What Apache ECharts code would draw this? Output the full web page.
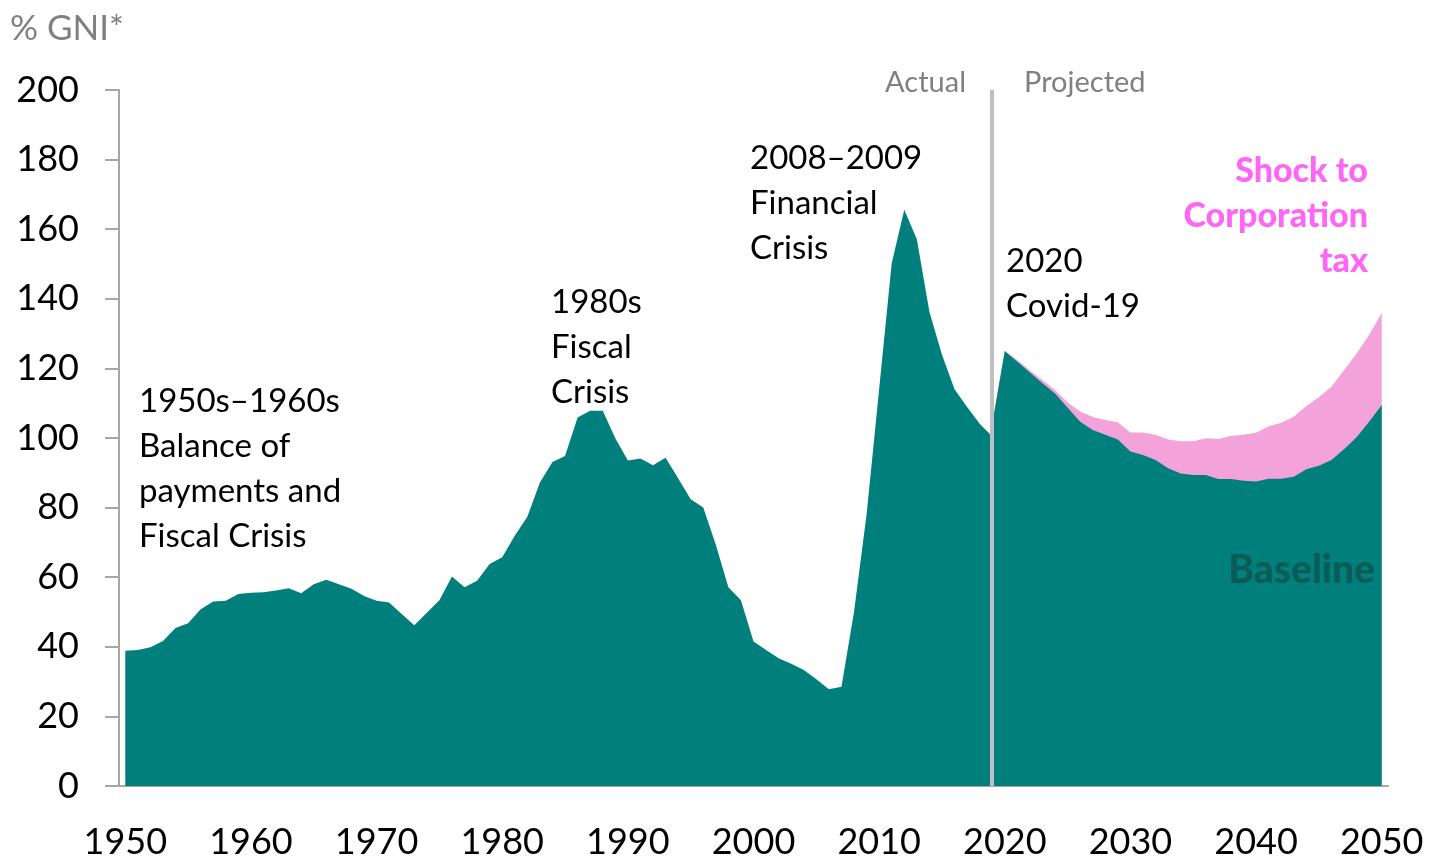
<!DOCTYPE html>
<html>
<head>
<meta charset="utf-8">
<script src="https://cdn.jsdelivr.net/npm/echarts@6/dist/echarts.min.js"></script>
<style>
  html, body { margin: 0; padding: 0; background: #fff; }
  #chart { width: 1429px; height: 860px; }
</style>
</head>
<body>
<div id="chart"></div>
<script>
// years 1950..2050
const years = []
for (let y = 1950; y <= 2050; y++) years.push(String(y))

// actual debt, % GNI*, 1950..2019
const actual = [
  38.9, 39.1, 39.9, 41.7, 45.4, 46.8, 50.8, 53.0, 53.2, 55.2,
  55.5, 55.7, 56.2, 56.8, 55.4, 58.0, 59.3, 58.0, 56.7, 54.6,
  53.2, 52.7, 49.4, 46.2, 49.8, 53.4, 60.2, 57.1, 59.0, 63.8,
  65.7, 71.9, 77.4, 87.2, 93.1, 94.8, 105.9, 107.8, 107.8, 99.9,
  93.5, 94.1, 92.2, 94.3, 88.4, 82.4, 80.0, 69.3, 57.1, 53.4,
  41.5, 39.1, 36.7, 35.1, 33.3, 30.7, 27.8, 28.5, 50.0, 78.0,
  114.0, 150.2, 165.6, 157.1, 136.3, 123.9, 114.0, 108.9, 104.1, 100.4
]

// projected baseline, 2019..2050
const baseline = [
  104.0, 125.0, 121.9, 118.8, 115.7, 112.8, 108.7, 104.7, 102.3, 100.9,
  99.6, 96.1, 95.1, 93.7, 91.3, 89.8, 89.4, 89.4, 88.2, 88.2,
  87.7, 87.5, 88.3, 88.3, 88.9, 91.0, 92.0, 93.7, 96.8, 100.2,
  104.7, 109.5
]

// projected with corporation tax shock, 2019..2050
const shock = [
  104.0, 125.0, 122.4, 119.5, 116.7, 113.8, 110.2, 107.6, 106.0, 105.2,
  104.5, 101.6, 101.6, 100.9, 99.6, 99.1, 99.1, 99.9, 99.7, 100.6,
  100.9, 101.5, 103.4, 104.4, 106.1, 109.2, 111.7, 114.7, 119.5, 124.3,
  129.6, 135.9
]

const yTicks = [0, 20, 40, 60, 80, 100, 120, 140, 160, 180, 200]

const projStart = years.indexOf('2019')
const pad = (arr, start) => years.map((_, i) => (i >= start && i - start < arr.length) ? arr[i - start] : null)

const teal = '#007f7c'
const pink = '#f3a2da'
const font = 'Lato'

// annotation helper
const note = (text, pos, style) => Object.assign({ type: 'text', z: 100, style: Object.assign({ text: text }, style) }, pos)
const blackNote = { fill: '#000', font: '33px ' + font, lineHeight: 45 }
const pinkNote = { fill: '#ff66f5', font: '900 34px ' + font }

const chart = echarts.init(document.getElementById('chart'))
const option = {
  animation: false,
  textStyle: { fontFamily: font },
  grid: { left: 119, right: 41, top: 90, bottom: 74 },
  xAxis: {
    type: 'category',
    data: years,
    boundaryGap: true,
    axisLine: { lineStyle: { color: '#a6a6a6', width: 2 } },
    axisTick: { interval: 9, length: 14, lineStyle: { color: '#a6a6a6', width: 2 } },
    axisLabel: { interval: 9, color: '#000', fontSize: 36, margin: 38, fontFamily: font }
  },
  yAxis: {
    type: 'value',
    min: yTicks[0],
    max: yTicks[yTicks.length - 1],
    interval: 20,
    splitLine: { show: false },
    axisLine: { show: true, lineStyle: { color: '#a6a6a6', width: 2 } },
    axisTick: { show: true, length: 14, lineStyle: { color: '#a6a6a6', width: 2 } },
    axisLabel: { color: '#000', fontSize: 36, margin: 40, fontFamily: font }
  },
  series: [
    {
      name: 'Actual',
      type: 'line',
      data: pad(actual, 0),
      symbol: 'none',
      lineStyle: { width: 0 },
      areaStyle: { color: teal, opacity: 1 },
      markLine: {
        silent: true,
        symbol: 'none',
        label: { show: false },
        lineStyle: { color: '#bfbfbf', width: 4, type: 'solid' },
        data: [{ xAxis: '2019' }]
      },
      z: 3
    },
    {
      name: 'Shock to Corporation tax',
      type: 'line',
      data: pad(shock, projStart),
      symbol: 'none',
      lineStyle: { width: 0 },
      areaStyle: { color: pink, opacity: 1 },
      z: 2
    },
    {
      name: 'Baseline',
      type: 'line',
      data: pad(baseline, projStart),
      symbol: 'none',
      lineStyle: { width: 0 },
      areaStyle: { color: teal, opacity: 1 },
      z: 2
    }
  ],
  graphic: [
    note('% GNI*', { left: 10, top: 11 }, { fill: '#808080', font: '35px ' + font }),
    note('Actual', { right: 1429 - 966, top: 68 }, { fill: '#808080', font: '29px ' + font }),
    note('Projected', { left: 1024, top: 68 }, { fill: '#808080', font: '29px ' + font }),
    note('1950s–1960s\nBalance of\npayments and\nFiscal Crisis', { left: 139, top: 379 }, blackNote),
    note('1980s\nFiscal\nCrisis', { left: 551, top: 280 }, blackNote),
    note('2008–2009\nFinancial\nCrisis', { left: 750, top: 136 }, blackNote),
    note('2020\nCovid-19', { left: 1006, top: 239 }, blackNote),
    note('Shock to', { right: 61, top: 154 }, pinkNote),
    note('Corporation', { right: 61, top: 199 }, pinkNote),
    note('tax', { right: 61, top: 244 }, pinkNote),
    note('Baseline', { right: 54, top: 551 }, { fill: '#0b5c57', font: '900 39px ' + font })
  ]
}
chart.setOption(option)
</script>
</body>
</html>
